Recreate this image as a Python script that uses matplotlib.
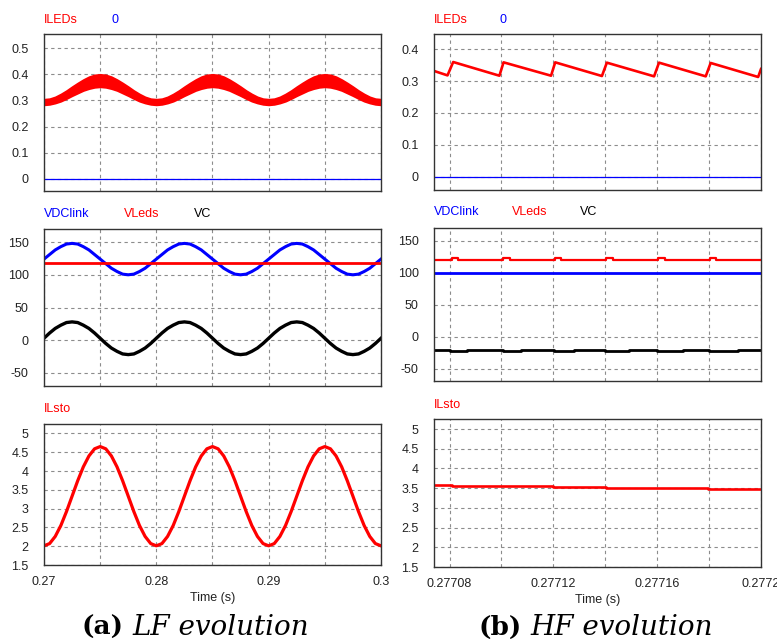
import numpy as np
import matplotlib
matplotlib.use("Agg")
import matplotlib.pyplot as plt
from matplotlib.ticker import FixedLocator, FixedFormatter

plt.rcParams['font.family'] = ['Liberation Sans', 'DejaVu Sans']

W, H = 777, 641

# ---- LF data (a), sampled every 0.5 ms from 0.27 s to 0.30 s ----
t_lf = np.linspace(0.27, 0.30, 61)

iled_hi = [0.305, 0.307, 0.314, 0.325, 0.338, 0.353, 0.367, 0.380, 0.391, 0.398,
           0.400, 0.398, 0.391, 0.380, 0.367, 0.353, 0.338, 0.325, 0.314, 0.307,
           0.305, 0.307, 0.314, 0.325, 0.338, 0.353, 0.367, 0.380, 0.391, 0.398,
           0.400, 0.398, 0.391, 0.380, 0.367, 0.353, 0.338, 0.325, 0.314, 0.307,
           0.305, 0.307, 0.314, 0.325, 0.338, 0.353, 0.367, 0.380, 0.391, 0.398,
           0.400, 0.398, 0.391, 0.380, 0.367, 0.353, 0.338, 0.325, 0.314, 0.307,
           0.305]
iled_lo = [0.283, 0.285, 0.290, 0.297, 0.307, 0.318, 0.328, 0.338, 0.345, 0.350,
           0.352, 0.350, 0.345, 0.338, 0.328, 0.318, 0.307, 0.297, 0.290, 0.285,
           0.283, 0.285, 0.290, 0.297, 0.307, 0.318, 0.328, 0.338, 0.345, 0.350,
           0.352, 0.350, 0.345, 0.338, 0.328, 0.318, 0.307, 0.297, 0.290, 0.285,
           0.283, 0.285, 0.290, 0.297, 0.307, 0.318, 0.328, 0.338, 0.345, 0.350,
           0.352, 0.350, 0.345, 0.338, 0.328, 0.318, 0.307, 0.297, 0.290, 0.285,
           0.283]
vdc_lf = [124, 131, 138, 143, 147, 148, 147, 143, 138, 131,
          124, 117, 110, 105, 101, 100, 101, 105, 110, 117,
          124, 131, 138, 143, 147, 148, 147, 143, 138, 131,
          124, 117, 110, 105, 101, 100, 101, 105, 110, 117,
          124, 131, 138, 143, 147, 148, 147, 143, 138, 131,
          124, 117, 110, 105, 101, 100, 101, 105, 110, 117,
          124]
vc_lf = [3, 11, 18, 23, 27, 28, 27, 23, 18, 11,
         3, -5, -12, -17, -21, -22, -21, -17, -12, -5,
         3, 11, 18, 23, 27, 28, 27, 23, 18, 11,
         3, -5, -12, -17, -21, -22, -21, -17, -12, -5,
         3, 11, 18, 23, 27, 28, 27, 23, 18, 11,
         3, -5, -12, -17, -21, -22, -21, -17, -12, -5,
         3]
vleds_lf_t = [0.27, 0.30]
vleds_lf = [118.5, 118.5]
ilsto_lf = [2.01, 2.07, 2.26, 2.55, 2.92, 3.33, 3.74, 4.11, 4.40, 4.59,
            4.65, 4.59, 4.40, 4.11, 3.74, 3.33, 2.92, 2.55, 2.26, 2.07,
            2.01, 2.07, 2.26, 2.55, 2.92, 3.33, 3.74, 4.11, 4.40, 4.59,
            4.65, 4.59, 4.40, 4.11, 3.74, 3.33, 2.92, 2.55, 2.26, 2.07,
            2.01, 2.07, 2.26, 2.55, 2.92, 3.33, 3.74, 4.11, 4.40, 4.59,
            4.65, 4.59, 4.40, 4.11, 3.74, 3.33, 2.92, 2.55, 2.26, 2.07,
            2.01]

# ---- HF data (b) ----
t0_hf, t1_hf = 0.277074, 0.2772
iled_hf_t = [0.277074, 0.2770792, 0.2770814, 0.2770992, 0.2771008, 0.2771191,
             0.2771207, 0.2771387, 0.2771406, 0.2771588, 0.2771607, 0.2771787,
             0.2771806, 0.2771989, 0.2772]
iled_hf = [0.332, 0.318, 0.360, 0.317, 0.359, 0.317, 0.359, 0.316, 0.358,
           0.315, 0.358, 0.315, 0.357, 0.313, 0.338]

vdc_hf_t = [t0_hf, t1_hf]
vdc_hf = [100, 100]

vleds_hf_t = [0.277074, 0.2770808, 0.2770834, 0.2771006, 0.2771031, 0.2771205,
              0.2771230, 0.2771404, 0.2771429, 0.2771604, 0.2771629, 0.2771803,
              0.2771828, 0.2772]
vleds_hf = [120.5, 123, 120.5, 123, 120.5, 123, 120.5, 123, 120.5, 123, 120.5,
            123, 120.5, 120.5]

vc_hf_t = [0.277074, 0.2770803, 0.2770867, 0.2771005, 0.2771076, 0.2771202,
           0.2771281, 0.2771400, 0.2771490, 0.2771601, 0.2771700, 0.2771800,
           0.2771910, 0.2772]
vc_hf = [-20, -22, -20, -22, -20, -22, -20, -22, -20, -22, -20, -22, -20, -20]

ilsto_hf_t = [0.277074, 0.2770809, 0.2771198, 0.2771404, 0.2771796, 0.2772]
ilsto_hf = [3.58, 3.555, 3.54, 3.515, 3.48, 3.48]

RED = '#ff0000'
BLUE = '#0000ff'
BLK = '#000000'

fig = plt.figure(figsize=(W / 100, H / 100), dpi=100)


def px_axes(x0, y0, x1, y1):
    return fig.add_axes([x0 / W, 1 - y1 / H, (x1 - x0) / W, (y1 - y0) / H])


def style(ax, xlim, ylim, yticks, ylabels, xmaj, xmin, xlabels=None):
    ax.set_xlim(*xlim)
    ax.set_ylim(*ylim)
    ax.yaxis.set_major_locator(FixedLocator(yticks))
    ax.yaxis.set_major_formatter(FixedFormatter(ylabels))
    ax.xaxis.set_major_locator(FixedLocator(xmaj))
    ax.xaxis.set_minor_locator(FixedLocator(xmin))
    if xlabels is None:
        ax.set_xticklabels([])
    else:
        ax.xaxis.set_major_formatter(FixedFormatter(xlabels))
    ax.tick_params(which='both', length=0, labelsize=9, colors='#222222')
    ax.tick_params(axis='y', pad=11)
    ax.tick_params(axis='x', pad=8)
    ax.grid(True, which='both', color='#8c8c8c', linestyle=(0, (3, 3)), linewidth=0.8)
    ax.set_axisbelow(True)
    for s in ax.spines.values():
        s.set_color('#333333')
        s.set_linewidth(1.0)


def label(x, y, s, c):
    fig.text(x / W, 1 - y / H, s, color=c, fontsize=9, ha='left', va='center')


lf_xlim = (0.27, 0.30)
lf_maj = [0.27, 0.28, 0.29, 0.30]
lf_min = [0.275, 0.285, 0.295]
hf_maj = [0.27708, 0.27712, 0.27716, 0.2772]
hf_min = [0.2771, 0.27714, 0.27718]

# (a) top: ILEDs
ax = px_axes(44, 34, 381, 191)
ax.fill_between(t_lf, iled_lo, iled_hi, color=RED, lw=1.2, edgecolor=RED)
ax.plot(lf_xlim, [0, 0], color=BLUE, lw=0.9)
style(ax, lf_xlim, (-0.046, 0.554), [0, 0.1, 0.2, 0.3, 0.4, 0.5],
      ['0', '0.1', '0.2', '0.3', '0.4', '0.5'], lf_maj, lf_min)
label(44, 20, 'ILEDs', RED)
label(111, 20, '0', BLUE)

# (a) middle: voltages
ax = px_axes(44, 229, 381, 386)
ax.plot(t_lf, vdc_lf, color=BLUE, lw=2.2)
ax.plot(vleds_lf_t, vleds_lf, color=RED, lw=2.0)
ax.plot(t_lf, vc_lf, color=BLK, lw=2.4)
style(ax, lf_xlim, (-70, 170), [-50, 0, 50, 100, 150],
      ['-50', '0', '50', '100', '150'], lf_maj, lf_min)
label(44, 214, 'VDClink', BLUE)
label(124, 214, 'VLeds', RED)
label(194, 214, 'VC', BLK)

# (a) bottom: ILsto
ax = px_axes(44, 424, 381, 565)
ax.plot(t_lf, ilsto_lf, color=RED, lw=2.3)
style(ax, lf_xlim, (1.5, 5.25), [1.5, 2, 2.5, 3, 3.5, 4, 4.5, 5],
      ['1.5', '2', '2.5', '3', '3.5', '4', '4.5', '5'], lf_maj, lf_min,
      ['0.27', '0.28', '0.29', '0.3'])
ax.set_xlabel('Time (s)', fontsize=9, color='#222222', labelpad=3)
label(44, 409, 'ILsto', RED)

# (b) top: ILEDs
ax = px_axes(434, 34, 761, 190)
ax.plot(iled_hf_t, iled_hf, color=RED, lw=1.9)
ax.plot((t0_hf, t1_hf), [0, 0], color=BLUE, lw=0.9)
style(ax, (t0_hf, t1_hf), (-0.042, 0.448), [0, 0.1, 0.2, 0.3, 0.4],
      ['0', '0.1', '0.2', '0.3', '0.4'], hf_maj, hf_min)
label(434, 20, 'ILEDs', RED)
label(500, 20, '0', BLUE)

# (b) middle: voltages
ax = px_axes(434, 228, 761, 381)
ax.plot(vleds_hf_t, vleds_hf, color=RED, lw=1.6, drawstyle='steps-post')
ax.plot(vdc_hf_t, vdc_hf, color=BLUE, lw=2.0)
ax.plot(vc_hf_t, vc_hf, color=BLK, lw=2.0, drawstyle='steps-post')
style(ax, (t0_hf, t1_hf), (-69, 170), [-50, 0, 50, 100, 150],
      ['-50', '0', '50', '100', '150'], hf_maj, hf_min)
label(434, 212, 'VDClink', BLUE)
label(512, 212, 'VLeds', RED)
label(580, 212, 'VC', BLK)

# (b) bottom: ILsto
ax = px_axes(434, 419, 761, 567)
ax.plot(ilsto_hf_t, ilsto_hf, color=RED, lw=1.9, drawstyle='steps-post')
style(ax, (t0_hf, t1_hf), (1.5, 5.256), [1.5, 2, 2.5, 3, 3.5, 4, 4.5, 5],
      ['1.5', '2', '2.5', '3', '3.5', '4', '4.5', '5'], hf_maj, hf_min,
      ['0.27708', '0.27712', '0.27716', '0.2772'])
ax.set_xlabel('Time (s)', fontsize=9, color='#222222', labelpad=3)
label(434, 405, 'ILsto', RED)

# captions: bold tag followed by italic text, placed after the tag's width
cap_y = 1 - 635 / H
renderer = fig.canvas.get_renderer()
for x_start, tag, txt in [(82, '(a)', 'LF evolution'), (479, '(b)', 'HF evolution')]:
    t = fig.text(x_start / W, cap_y, tag, fontsize=19, fontweight='bold',
                 family='DejaVu Serif', ha='left', va='baseline')
    bb = t.get_window_extent(renderer)
    fig.text((bb.x1 + 8) / W, cap_y, txt, fontsize=20, style='italic',
             family='DejaVu Serif', ha='left', va='baseline')

fig.savefig('out.png', dpi=100)
